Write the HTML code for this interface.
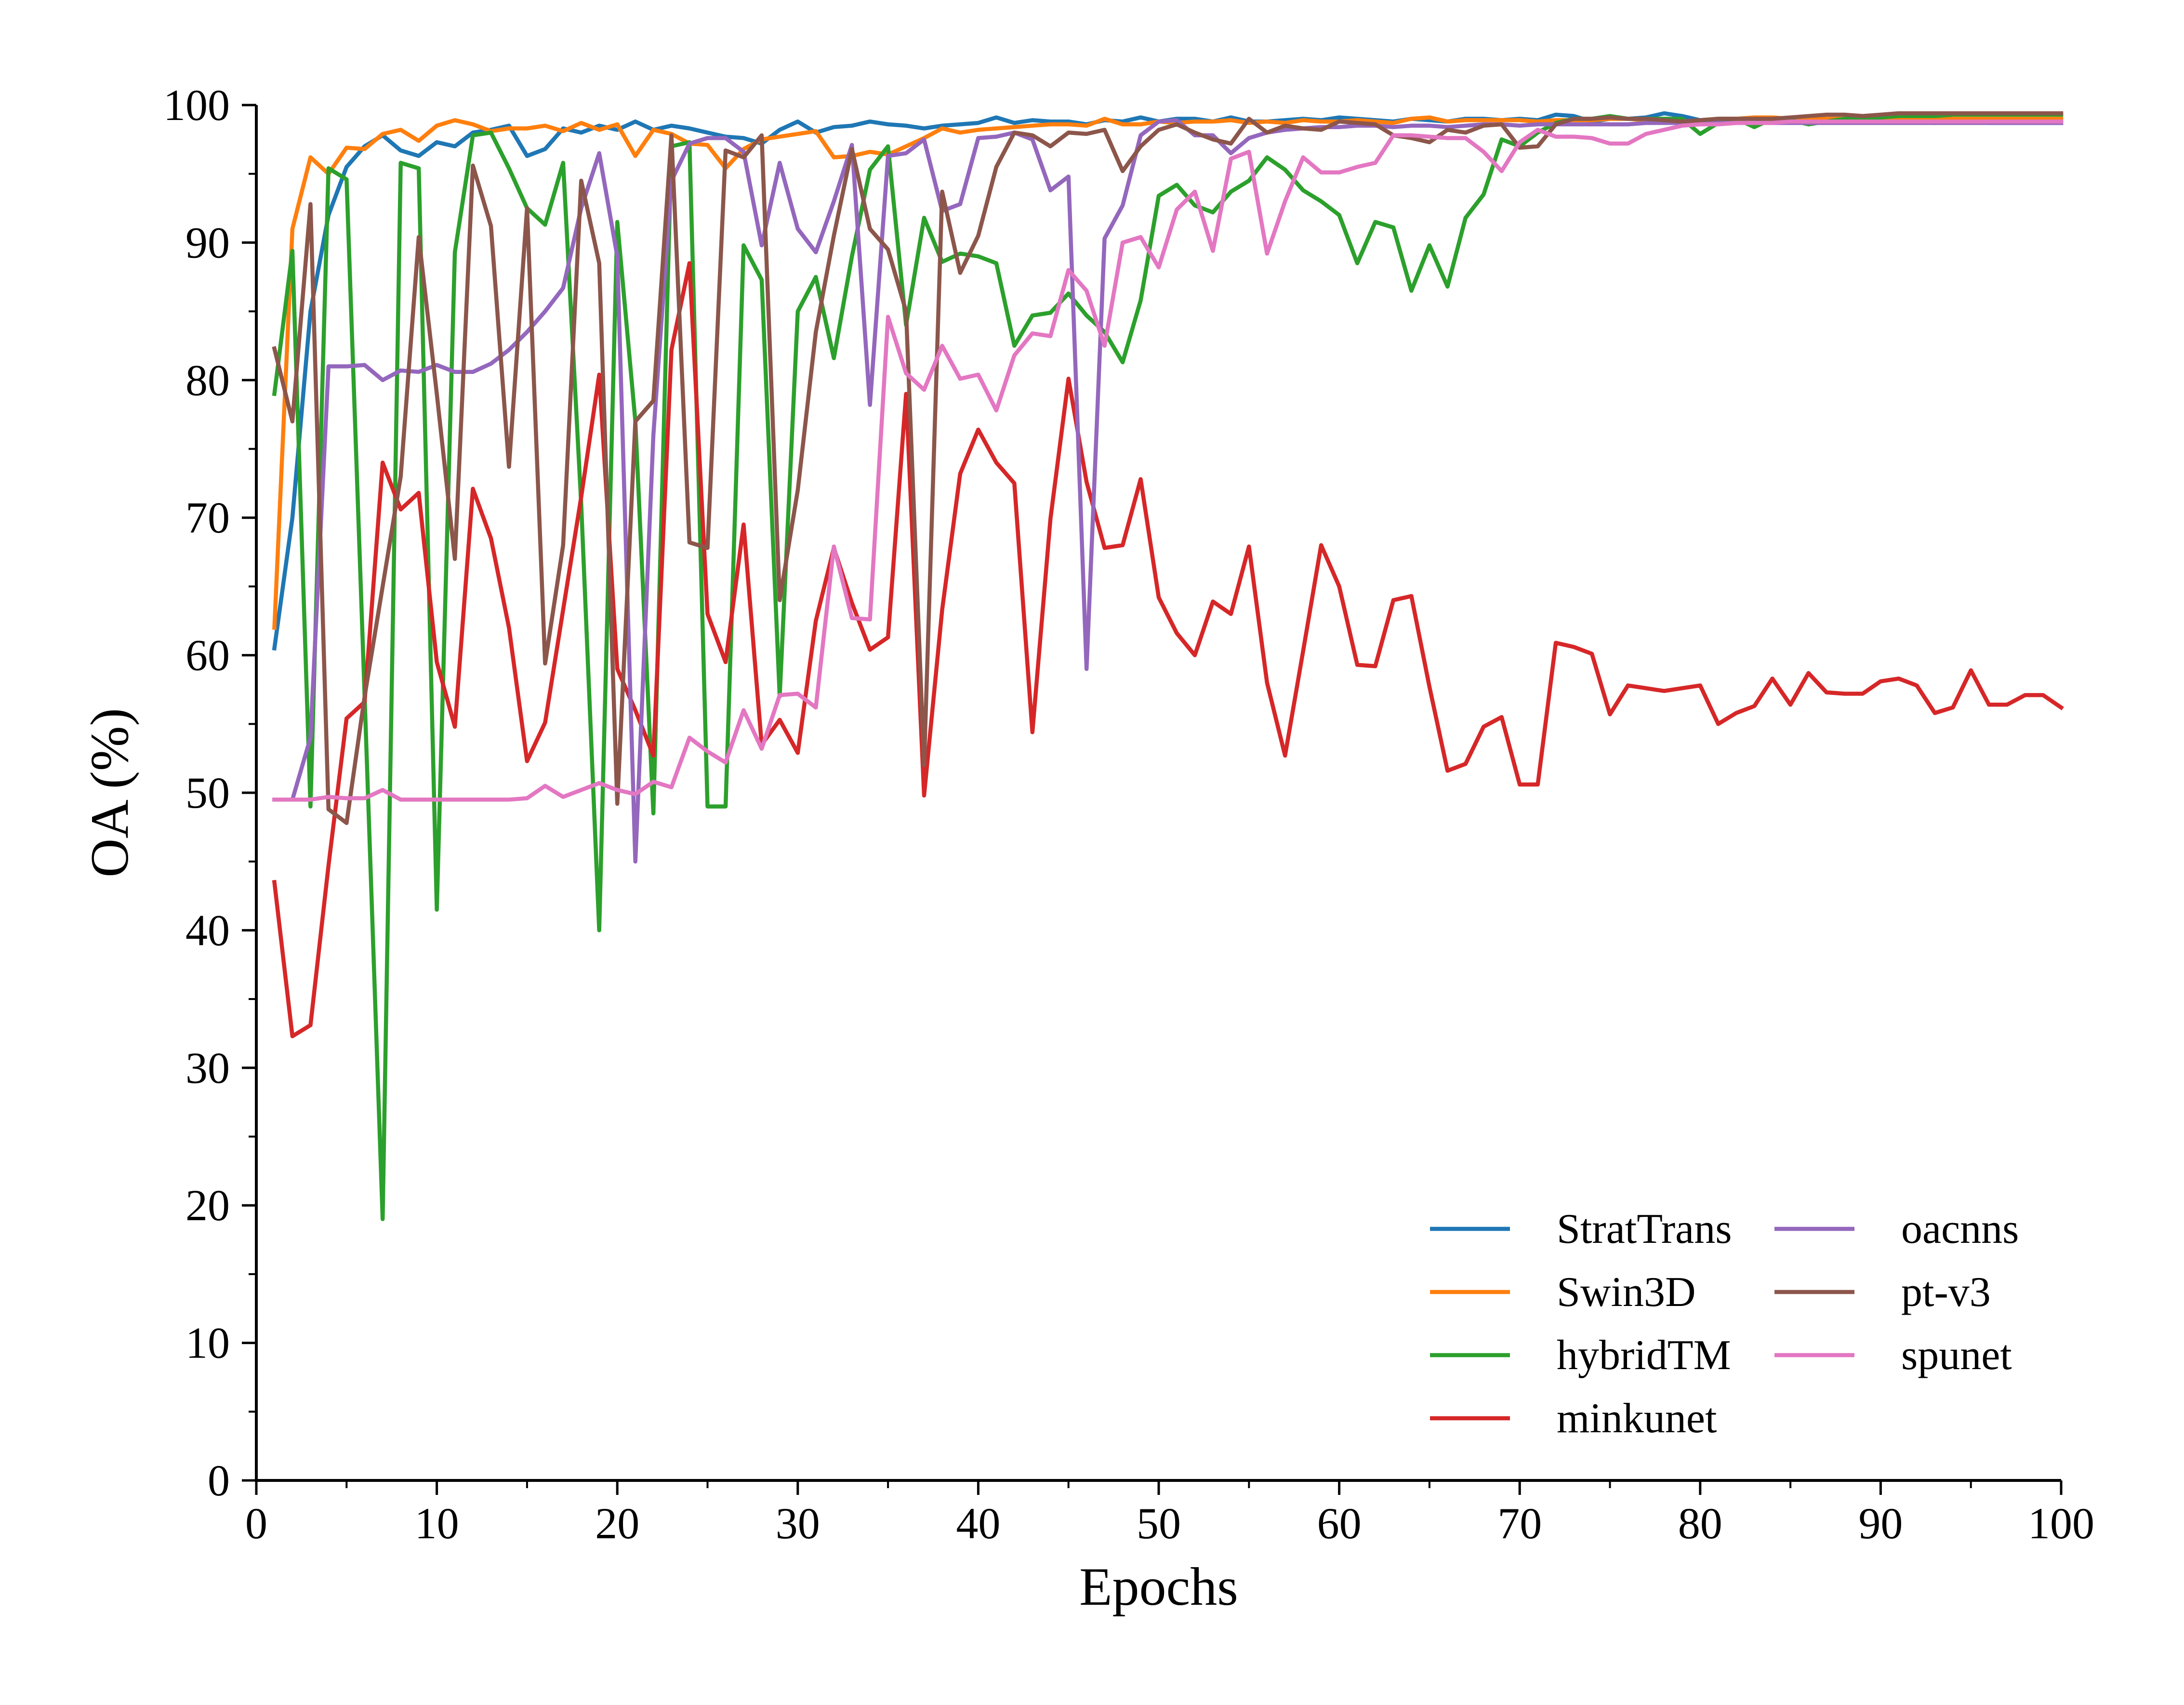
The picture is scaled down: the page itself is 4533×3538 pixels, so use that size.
<!DOCTYPE html>
<html><head><meta charset="utf-8"><style>
html,body{margin:0;padding:0;background:#fff}
svg{display:block}
text{font-family:"Liberation Serif",serif;fill:#000}
</style></head><body>
<svg id="chart" width="4533" height="3538" viewBox="0 0 4533 3538" xmlns="http://www.w3.org/2000/svg">
<rect width="4533" height="3538" fill="#fff"/>
<g id="lines"></g>
<g id="axes"></g>
<g id="legend"></g>
</svg>
<script>
const xTicks=[0,10,20,30,40,50,60,70,80,90,100];
const yTicks=[0,10,20,30,40,50,60,70,80,90,100];
const seriesNames=["StratTrans","Swin3D","hybridTM","minkunet","oacnns","pt-v3","spunet"];
const seriesColors=["#1f77b4","#ff7f0e","#2ca02c","#d62728","#9467bd","#8c564b","#e377c2"];
const stratTrans=[60.5,70,85,92,95.5,97,97.8,96.7,96.3,97.3,97,98,98.2,98.5,96.3,96.8,98.3,98,98.5,98.2,98.8,98.2,98.5,98.3,98,97.7,97.6,97.2,98.2,98.8,98,98.4,98.5,98.8,98.6,98.5,98.3,98.5,98.6,98.7,99.1,98.7,98.9,98.8,98.8,98.6,98.9,98.8,99.1,98.8,99,99,98.8,99.1,98.8,98.8,98.9,99,98.9,99.1,99,98.9,98.8,99,98.9,98.8,99,99,98.9,99,98.9,99.3,99.2,98.8,99,99,99.1,99.4,99.2,98.9,99,99,99,98.9,98.9,98.8,98.9,98.8,98.8,98.8,98.8,98.8,98.7,98.8,98.8,98.7,98.7,98.7,98.7,98.7];
const swin3D=[62,91,96.2,95,96.9,96.8,97.9,98.2,97.4,98.5,98.9,98.6,98.1,98.3,98.3,98.5,98.1,98.7,98.2,98.6,96.3,98.2,97.9,97.2,97.1,95.4,96.8,97.5,97.7,97.9,98.1,96.2,96.3,96.6,96.4,97,97.6,98.3,98,98.2,98.3,98.4,98.5,98.6,98.6,98.5,99,98.6,98.6,98.8,98.7,98.8,98.8,98.9,98.7,98.8,98.7,98.9,98.8,98.8,98.9,98.8,98.7,99,99.1,98.8,98.9,98.9,98.9,98.9,98.8,98.9,98.9,98.9,99,99,98.9,98.9,98.8,98.9,99,99,99.1,99.1,99,99,99,99,99,99,99,99,99,99,99,99,99,99,99,99];
const hybridTM=[79,89.4,49,95.4,94.6,57,19,95.8,95.4,41.5,89.3,97.8,98,95.4,92.5,91.3,95.8,71,40,91.5,77,48.5,97,97.3,49,49,89.8,87.3,57,85,87.5,81.6,89,95.3,97,84,91.8,88.6,89.2,89,88.5,82.5,84.7,84.9,86.3,84.7,83.5,81.3,85.8,93.4,94.2,92.7,92.2,93.7,94.5,96.2,95.3,93.8,93,92,88.5,91.5,91.1,86.5,89.8,86.8,91.8,93.5,97.5,97,98,98.7,99,99,99.2,99,99,99,99,97.9,98.7,99,98.4,99,98.9,98.6,98.8,99,99,99.1,99.2,99.2,99.2,99.3,99.3,99.3,99.3,99.3,99.3,99.3];
const minkunet=[43.5,32.3,33.1,44.7,55.4,56.6,74,70.6,71.8,59.5,54.8,72.1,68.5,62,52.3,55.1,63.3,71.5,80.4,59,56,52.7,82.2,88.5,63,59.5,69.5,53.5,55.3,52.9,62.5,67.8,63.8,60.4,61.3,79,49.8,63.3,73.2,76.4,74,72.5,54.4,69.9,80.1,72.6,67.8,68,72.8,64.2,61.6,60,63.9,63,67.9,58,52.7,60.3,68,65,59.3,59.2,64,64.3,57.7,51.6,52.1,54.8,55.5,50.6,50.6,60.9,60.6,60.1,55.7,57.8,57.6,57.4,57.6,57.8,55,55.8,56.3,58.3,56.4,58.7,57.3,57.2,57.2,58.1,58.3,57.8,55.8,56.2,58.9,56.4,56.4,57.1,57.1,56.2];
const oacnns=[49.5,49.5,54,81,81,81.1,80,80.7,80.6,81.1,80.6,80.6,81.2,82.2,83.5,85,86.7,92.5,96.5,89,45,76,94.5,97.2,97.6,97.6,96.6,89.8,95.8,91,89.3,93,97.1,78.2,96.3,96.5,97.5,92.3,92.8,97.6,97.7,98,97.5,93.8,94.8,59,90.3,92.7,97.8,98.8,98.9,97.8,97.8,96.5,97.6,98,98.2,98.3,98.4,98.4,98.5,98.5,98.4,98.5,98.5,98.4,98.5,98.6,98.6,98.5,98.6,98.6,98.6,98.6,98.6,98.6,98.7,98.7,98.7,98.7,98.7,98.7,98.7,98.7,98.7,98.7,98.7,98.7,98.7,98.7,98.7,98.7,98.7,98.7,98.7,98.7,98.7,98.7,98.7,98.7];
const ptv3=[82.3,77,92.8,48.8,47.8,57,65,73,90.4,79,67,95.6,91.2,73.7,92.5,59.4,68,94.5,88.5,49.2,77,78.5,97.8,68.2,67.8,96.7,96.2,97.8,64,72,83.5,90.5,96.8,91,89.5,85,52,93.7,87.8,90.5,95.5,98,97.8,97,98,97.9,98.2,95.2,97,98.2,98.6,98,97.5,97.2,99,98,98.5,98.3,98.2,98.8,98.7,98.6,97.8,97.6,97.3,98.2,98,98.5,98.6,96.9,97,98.6,99,99,99.1,99,99,98.9,98.8,98.9,99,99,99,99,99.1,99.2,99.3,99.3,99.2,99.3,99.4,99.4,99.4,99.4,99.4,99.4,99.4,99.4,99.4,99.4];
const spunet=[49.5,49.5,49.5,49.7,49.6,49.6,50.2,49.5,49.5,49.5,49.5,49.5,49.5,49.5,49.6,50.5,49.7,50.2,50.7,50.2,49.9,50.8,50.4,54,53,52.2,56,53.2,57.1,57.2,56.2,67.9,62.7,62.6,84.6,80.5,79.3,82.5,80.1,80.4,77.8,81.8,83.4,83.2,88,86.5,82.5,90,90.4,88.2,92.4,93.7,89.4,96.1,96.6,89.2,93,96.2,95.1,95.1,95.5,95.8,97.8,97.8,97.7,97.6,97.6,96.6,95.2,97.3,98.2,97.7,97.7,97.6,97.2,97.2,97.9,98.2,98.5,98.6,98.6,98.7,98.7,98.7,98.8,98.8,98.8,98.8,98.8,98.8,98.8,98.8,98.8,98.8,98.8,98.8,98.8,98.8,98.8,98.8];
const allSeries=[stratTrans,swin3D,hybridTM,minkunet,oacnns,ptv3,spunet];

const X0=532,X1=4278,Y0=3072,Y1=218;
const xs=v=>X0+(v-0)/(100-0)*(X1-X0);
const ys=v=>Y0-(v-0)/(100-0)*(Y0-Y1);
const NS="http://www.w3.org/2000/svg";
function mk(tag,attrs,parent){const e=document.createElementNS(NS,tag);for(const k in attrs)e.setAttribute(k,attrs[k]);parent.appendChild(e);return e;}
const lines=document.getElementById('lines'),axes=document.getElementById('axes'),legend=document.getElementById('legend');

allSeries.forEach((s,i)=>{
  const d=s.map((v,j)=>(j?'L':'M')+xs(j+1).toFixed(1)+','+ys(v).toFixed(1)).join('');
  const p=mk('path',{d:d,fill:'none',stroke:seriesColors[i],'stroke-width':8.5,'stroke-linejoin':'round','stroke-linecap':'square'},lines);
  
  
});

let a=mk('line',{x1:X0,y1:Y0,x2:X1,y2:Y0,stroke:'#000','stroke-width':6},axes);


a=mk('line',{x1:X0,y1:Y0+3,x2:X0,y2:Y1,stroke:'#000','stroke-width':6},axes);



xTicks.forEach(t=>{
  const x=xs(t);
  const tl=mk('line',{x1:x,y1:Y0,x2:x,y2:Y0+30,stroke:'#000','stroke-width':5},axes);
  
  
  const tx=mk('text',{x:x,y:Y0+120,'font-size':92,'text-anchor':'middle'},axes);
  tx.textContent=t;
  
  
  if(t<100){const m=mk('line',{x1:xs(t+5),y1:Y0,x2:xs(t+5),y2:Y0+16,stroke:'#000','stroke-width':4},axes);
    
    }
});
yTicks.forEach(t=>{
  const y=ys(t);
  const tl=mk('line',{x1:X0-30,y1:y,x2:X0,y2:y,stroke:'#000','stroke-width':5},axes);
  
  
  const tx=mk('text',{x:X0-55,y:y+31,'font-size':92,'text-anchor':'end'},axes);
  tx.textContent=t;
  
  
  if(t<100){const m=mk('line',{x1:X0-16,y1:ys(t+5),x2:X0,y2:ys(t+5),stroke:'#000','stroke-width':4},axes);
    
    }
});
let xl=mk('text',{x:(X0+X1)/2,y:3330,'font-size':112,'text-anchor':'middle'},axes);
xl.textContent='Epochs';


let yl=mk('text',{x:0,y:0,'font-size':112,'text-anchor':'middle',transform:'translate(265,'+((Y0+Y1)/2)+') rotate(-90)'},axes);
yl.textContent='OA (%)';



seriesNames.forEach((n,i)=>{
  const col=i<4?0:1,row=i<4?i:i-4;
  const lx=col?3683:2968,ly=2550+row*131;
  const g=mk('g',{},legend);
  
  
  mk('line',{x1:lx,y1:ly,x2:lx+166,y2:ly,stroke:seriesColors[i],'stroke-width':8.5},g);
  const t=mk('text',{x:lx+263,y:ly+29,'font-size':88},g);
  t.textContent=n;
});
</script>
</body></html>
